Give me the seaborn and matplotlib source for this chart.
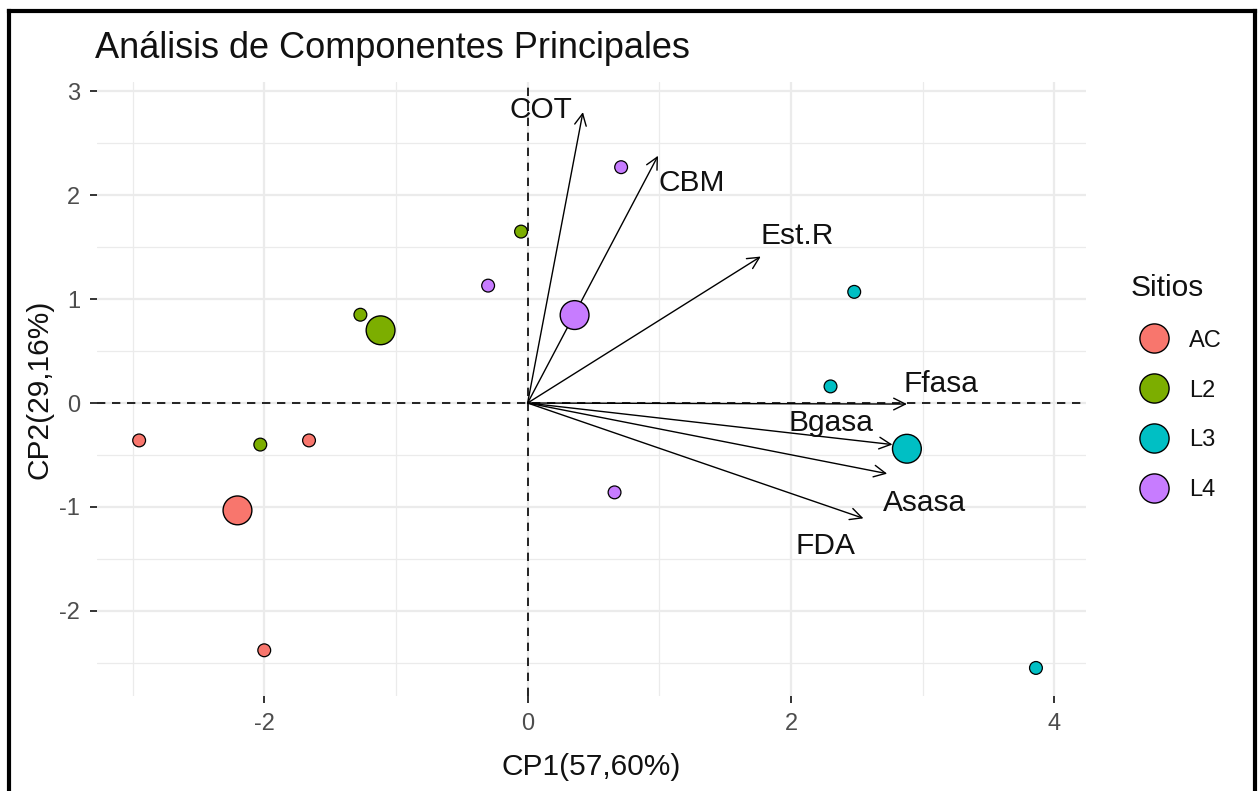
import numpy as np
import pandas as pd
import matplotlib
matplotlib.use("Agg")
import matplotlib.pyplot as plt
from matplotlib.lines import Line2D
import seaborn as sns

# Individual scores on the first two principal components
sitio = ["AC", "AC", "AC", "L2", "L2", "L2", "L3", "L3", "L3", "L4", "L4", "L4"]
cp1 = [-2.95, -1.66, -2.00, -1.27, -2.03, -0.05, 2.48, 2.30, 3.86, 0.71, -0.30, 0.66]
cp2 = [-0.36, -0.36, -2.38, 0.85, -0.40, 1.65, 1.07, 0.16, -2.55, 2.27, 1.13, -0.86]

# Variable loadings (arrow tips) and their label anchors
variables = ["COT", "CBM", "Est.R", "Ffasa", "Bgasa", "Asasa", "FDA"]
load_x = [0.42, 0.99, 1.77, 2.88, 2.77, 2.73, 2.55]
load_y = [2.80, 2.38, 1.41, -0.01, -0.40, -0.68, -1.11]
label_x = [0.10, 1.25, 2.05, 3.14, 2.30, 3.01, 2.26]
label_y = [2.82, 2.12, 1.61, 0.18, -0.19, -0.96, -1.38]

grupos = ["AC", "L2", "L3", "L4"]
colores = ["#F8766D", "#7CAE00", "#00BFC4", "#C77CFF"]

titulo = "Análisis de Componentes Principales"
eje_x = "CP1(57,60%)"
eje_y = "CP2(29,16%)"
x_ticks = [-2, 0, 2, 4]
y_ticks = [-2, -1, 0, 1, 2, 3]

df = pd.DataFrame({"Sitios": sitio, "CP1": cp1, "CP2": cp2})
centroides = df.groupby("Sitios", as_index=False)[["CP1", "CP2"]].mean()
paleta = dict(zip(grupos, colores))

sns.set_theme(style="whitegrid")
plt.rcParams["font.family"] = ["Liberation Sans", "DejaVu Sans"]
plt.rcParams["axes.unicode_minus"] = False

fig = plt.figure(figsize=(12.58, 7.91), dpi=100)
ax = fig.add_axes([97 / 1258, 1 - 696 / 791, (1086 - 97) / 1258, (696 - 82) / 791])
ax.set_facecolor("white")

ax.set_xlim(-3.27, 4.24)
ax.set_ylim(-2.82, 3.09)

# grid: major and minor lines
ax.set_xticks(x_ticks)
ax.set_yticks(y_ticks)
ax.set_xticks([-3, -1, 1, 3], minor=True)
ax.set_yticks([-2.5, -1.5, -0.5, 0.5, 1.5, 2.5], minor=True)
ax.grid(which="major", color="#EBEBEB", linewidth=1.6)
ax.grid(which="minor", color="#EBEBEB", linewidth=0.9)
ax.tick_params(which="minor", length=0)
ax.tick_params(which="major", length=5, width=1.4, color="#333333",
               labelsize=17, labelcolor="#4D4D4D", pad=7,
               bottom=True, left=True)
for s in ax.spines.values():
    s.set_visible(False)
ax.set_axisbelow(True)

# reference lines through the origin
ax.axhline(0, color="black", linestyle=(0, (5, 4)), linewidth=1.2, zorder=1)
ax.axvline(0, color="black", linestyle=(0, (5, 4)), linewidth=1.2, zorder=1)

# variable arrows
for vx, vy in zip(load_x, load_y):
    ax.annotate("", xy=(vx, vy), xytext=(0, 0),
                arrowprops=dict(arrowstyle="->,head_length=0.7,head_width=0.35",
                                color="black", lw=1.0, shrinkA=0, shrinkB=0),
                zorder=2)
for name, tx, ty in zip(variables, label_x, label_y):
    ax.text(tx, ty, name, ha="center", va="center", fontsize=21.5,
            color="#111111", zorder=5)

# individuals and group centroids
sns.scatterplot(data=df, x="CP1", y="CP2", hue="Sitios", palette=paleta,
                hue_order=grupos, s=85, edgecolor="black", linewidth=0.9,
                legend=False, ax=ax, zorder=3)
sns.scatterplot(data=centroides, x="CP1", y="CP2", hue="Sitios", palette=paleta,
                hue_order=grupos, s=430, edgecolor="black", linewidth=1.0,
                legend=False, ax=ax, zorder=4)

ax.set_xlabel(eje_x, fontsize=21.5, color="#111111", labelpad=13)
ax.set_ylabel(eje_y, fontsize=21.5, color="#111111", labelpad=4)
ax.set_title(titulo, loc="left", fontsize=26, color="#111111", pad=17, x=-0.002)

# legend
handles = [Line2D([0], [0], marker="o", linestyle="", markersize=21,
                  markerfacecolor=c, markeredgecolor="black", markeredgewidth=1.0)
           for c in colores]
leg = fig.legend(handles, grupos, title="Sitios", loc="upper left",
                 bbox_to_anchor=(1119 / 1258, 1 - 262 / 791), frameon=False,
                 fontsize=17, title_fontsize=21.5, labelspacing=1.18,
                 handletextpad=0.45, borderpad=0.0)
leg._legend_box.align = "left"
for t in leg.get_texts():
    t.set_color("#111111")
leg.get_title().set_color("#111111")

# frame around the figure (open at the bottom)
W, H = 1258, 791
frame_kw = dict(color="black", linewidth=3.0, transform=fig.transFigure,
                solid_capstyle="projecting")
fig.add_artist(Line2D([9 / W, 9 / W], [0, 1 - 11 / H], **frame_kw))
fig.add_artist(Line2D([9 / W, 1255 / W], [1 - 11 / H, 1 - 11 / H], **frame_kw))
fig.add_artist(Line2D([1255 / W, 1255 / W], [0, 1 - 11 / H], **frame_kw))

fig.savefig("out.png", dpi=100, facecolor="white")
